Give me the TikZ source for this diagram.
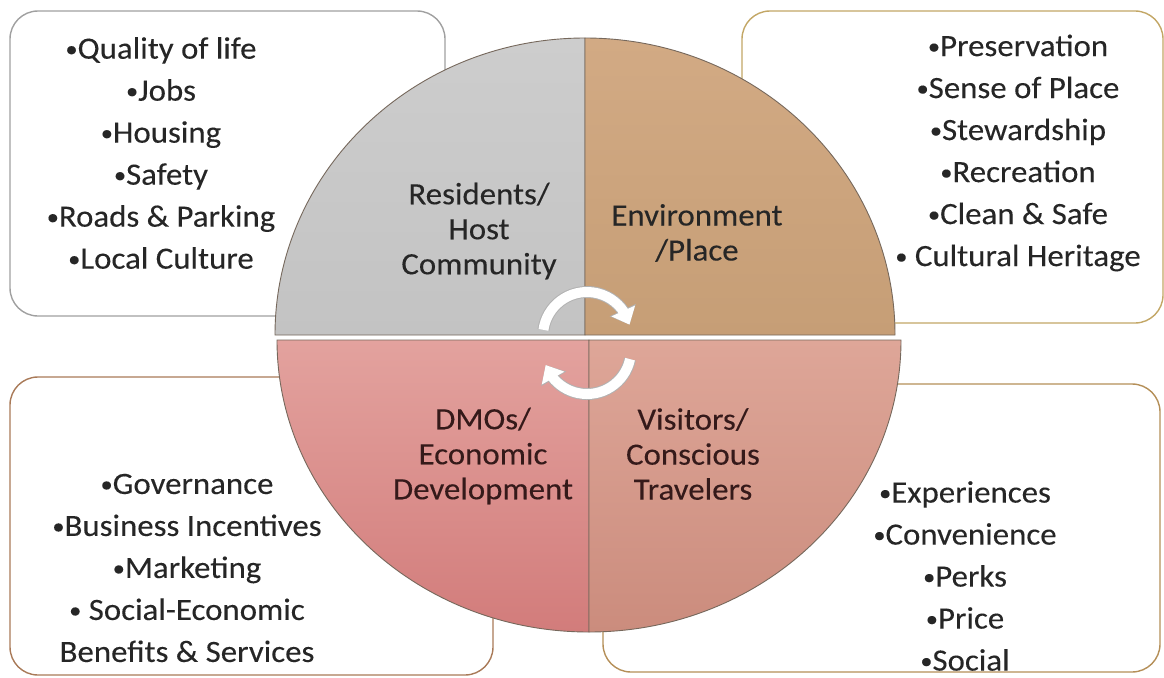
\documentclass[tikz,border=0pt]{standalone}
\usepackage{fontspec}
\setmainfont{Carlito}[FakeStretch=1.06, FakeBold=0.15]
\usetikzlibrary{arrows.meta,bending}

\definecolor{txt}{HTML}{262626}
\definecolor{txtdark}{HTML}{351A1A}
\definecolor{rimline}{HTML}{76685C}
\definecolor{grayA}{HTML}{CDCDCD}
\definecolor{grayB}{HTML}{C3C3C3}
\definecolor{tanA}{HTML}{D2AA84}
\definecolor{tanB}{HTML}{C69E76}
\definecolor{roseA}{HTML}{E3A29E}
\definecolor{roseB}{HTML}{D27C7B}
\definecolor{salmA}{HTML}{DEA698}
\definecolor{salmB}{HTML}{CB8C7D}
\definecolor{edgeGray}{HTML}{A0A0A0}
\definecolor{edgeOlive}{HTML}{C3A766}
\definecolor{edgeBrown}{HTML}{A97A58}
\definecolor{edgeGold}{HTML}{B58F58}

% small raised bullet used in the lists
\newcommand{\bul}{\raisebox{2pt}{\fontsize{23}{23}\selectfont •}}

\tikzset{
  listbox/.style={draw, line width=1.4pt, rounded corners=28pt, fill=white},
  quad/.style={draw=rimline, line width=0.9pt},
  listtext/.style={align=center, text=txt, font=\fontsize{31}{42}\selectfont},
  quadtext/.style={align=center, font=\fontsize{31}{35}\selectfont},
  cyclearrow/.style={line width=10pt, white, -{Triangle[width=25pt,length=15pt]}},
  cycleshade/.style={line width=12pt, black!30, -{Triangle[width=28pt,length=16pt]}},
}

\begin{document}
\begin{tikzpicture}[x=1pt,y=1pt]
\useasboundingbox[fill=white] (0,0) rectangle (1164,-677);

% outer boxes with the bullet lists
\draw[listbox, draw=edgeGray]  (10,-11)  rectangle (445,-316);
\draw[listbox, draw=edgeOlive] (742,-11) rectangle (1163,-323);
\draw[listbox, draw=edgeBrown] (10,-377) rectangle (493,-675);
\draw[listbox, draw=edgeGold]  (603,-384) rectangle (1160,-672);

% four quadrants of the central disc
\shade[quad, top color=grayA, bottom color=grayB]
  (585,-335) -- (275,-335) arc[start angle=180, end angle=90, x radius=310pt, y radius=297pt] -- cycle;
\shade[quad, top color=tanA, bottom color=tanB]
  (585,-335) -- (585,-38) arc[start angle=90, end angle=0, x radius=310pt, y radius=297pt] -- cycle;
\shade[quad, top color=roseA, bottom color=roseB]
  (589,-340) -- (277,-340) arc[start angle=180, end angle=270, x radius=312pt, y radius=292pt] -- cycle;
\shade[quad, top color=salmA, bottom color=salmB]
  (589,-340) -- (589,-632) arc[start angle=270, end angle=360, x radius=312pt, y radius=292pt] -- cycle;

% quadrant labels
\node[quadtext, text=txt] (res) at (479,-231) {Residents/\\Host\\Community};
\node[quadtext, text=txt] (env) at (697,-233) {Environment\\/Place};
\node[quadtext, text=txtdark] (dmo) at (483,-456) {DMOs/\\Economic\\Development};
\node[quadtext, text=txtdark] (vis) at (693,-454) {Visitors/\\Conscious\\Travelers};

% bullet lists
\node[listtext] (reslist) at (161,-153) {\bul Quality of life\\\bul Jobs\\\bul Housing\\\bul Safety\\\bul Roads \& Parking\\\bul Local Culture};
\node[listtext] (envlist) at (1018,-153) {\bul Preservation\\\bul Sense of Place\\\bul Stewardship\\\bul Recreation\\\bul Clean \& Safe\\\bul{} Cultural Heritage};
\node[listtext] (dmolist) at (187,-568) {\bul Governance\\\bul Business Incentives\\\bul Marketing\\\bul{} Social-Economic\\Benefits \& Services};
\node[listtext] (vislist) at (965,-576) {\bul Experiences\\\bul Convenience\\\bul Perks\\\bul Price\\\bul Social};

% circular arrows in the middle
\coordinate (hubtop) at (587,-336);
\coordinate (hubbot) at (587,-350);
\draw[cycleshade] ([shift={(172:44pt)}]hubtop) arc[start angle=172, end angle=15, radius=44pt];
\draw[cyclearrow] ([shift={(172:44pt)}]hubtop) arc[start angle=172, end angle=15, radius=44pt];
\draw[cycleshade] ([shift={(-12:44pt)}]hubbot) arc[start angle=-12, end angle=-160, radius=44pt];
\draw[cyclearrow] ([shift={(-12:44pt)}]hubbot) arc[start angle=-12, end angle=-160, radius=44pt];
\end{tikzpicture}
\end{document}
